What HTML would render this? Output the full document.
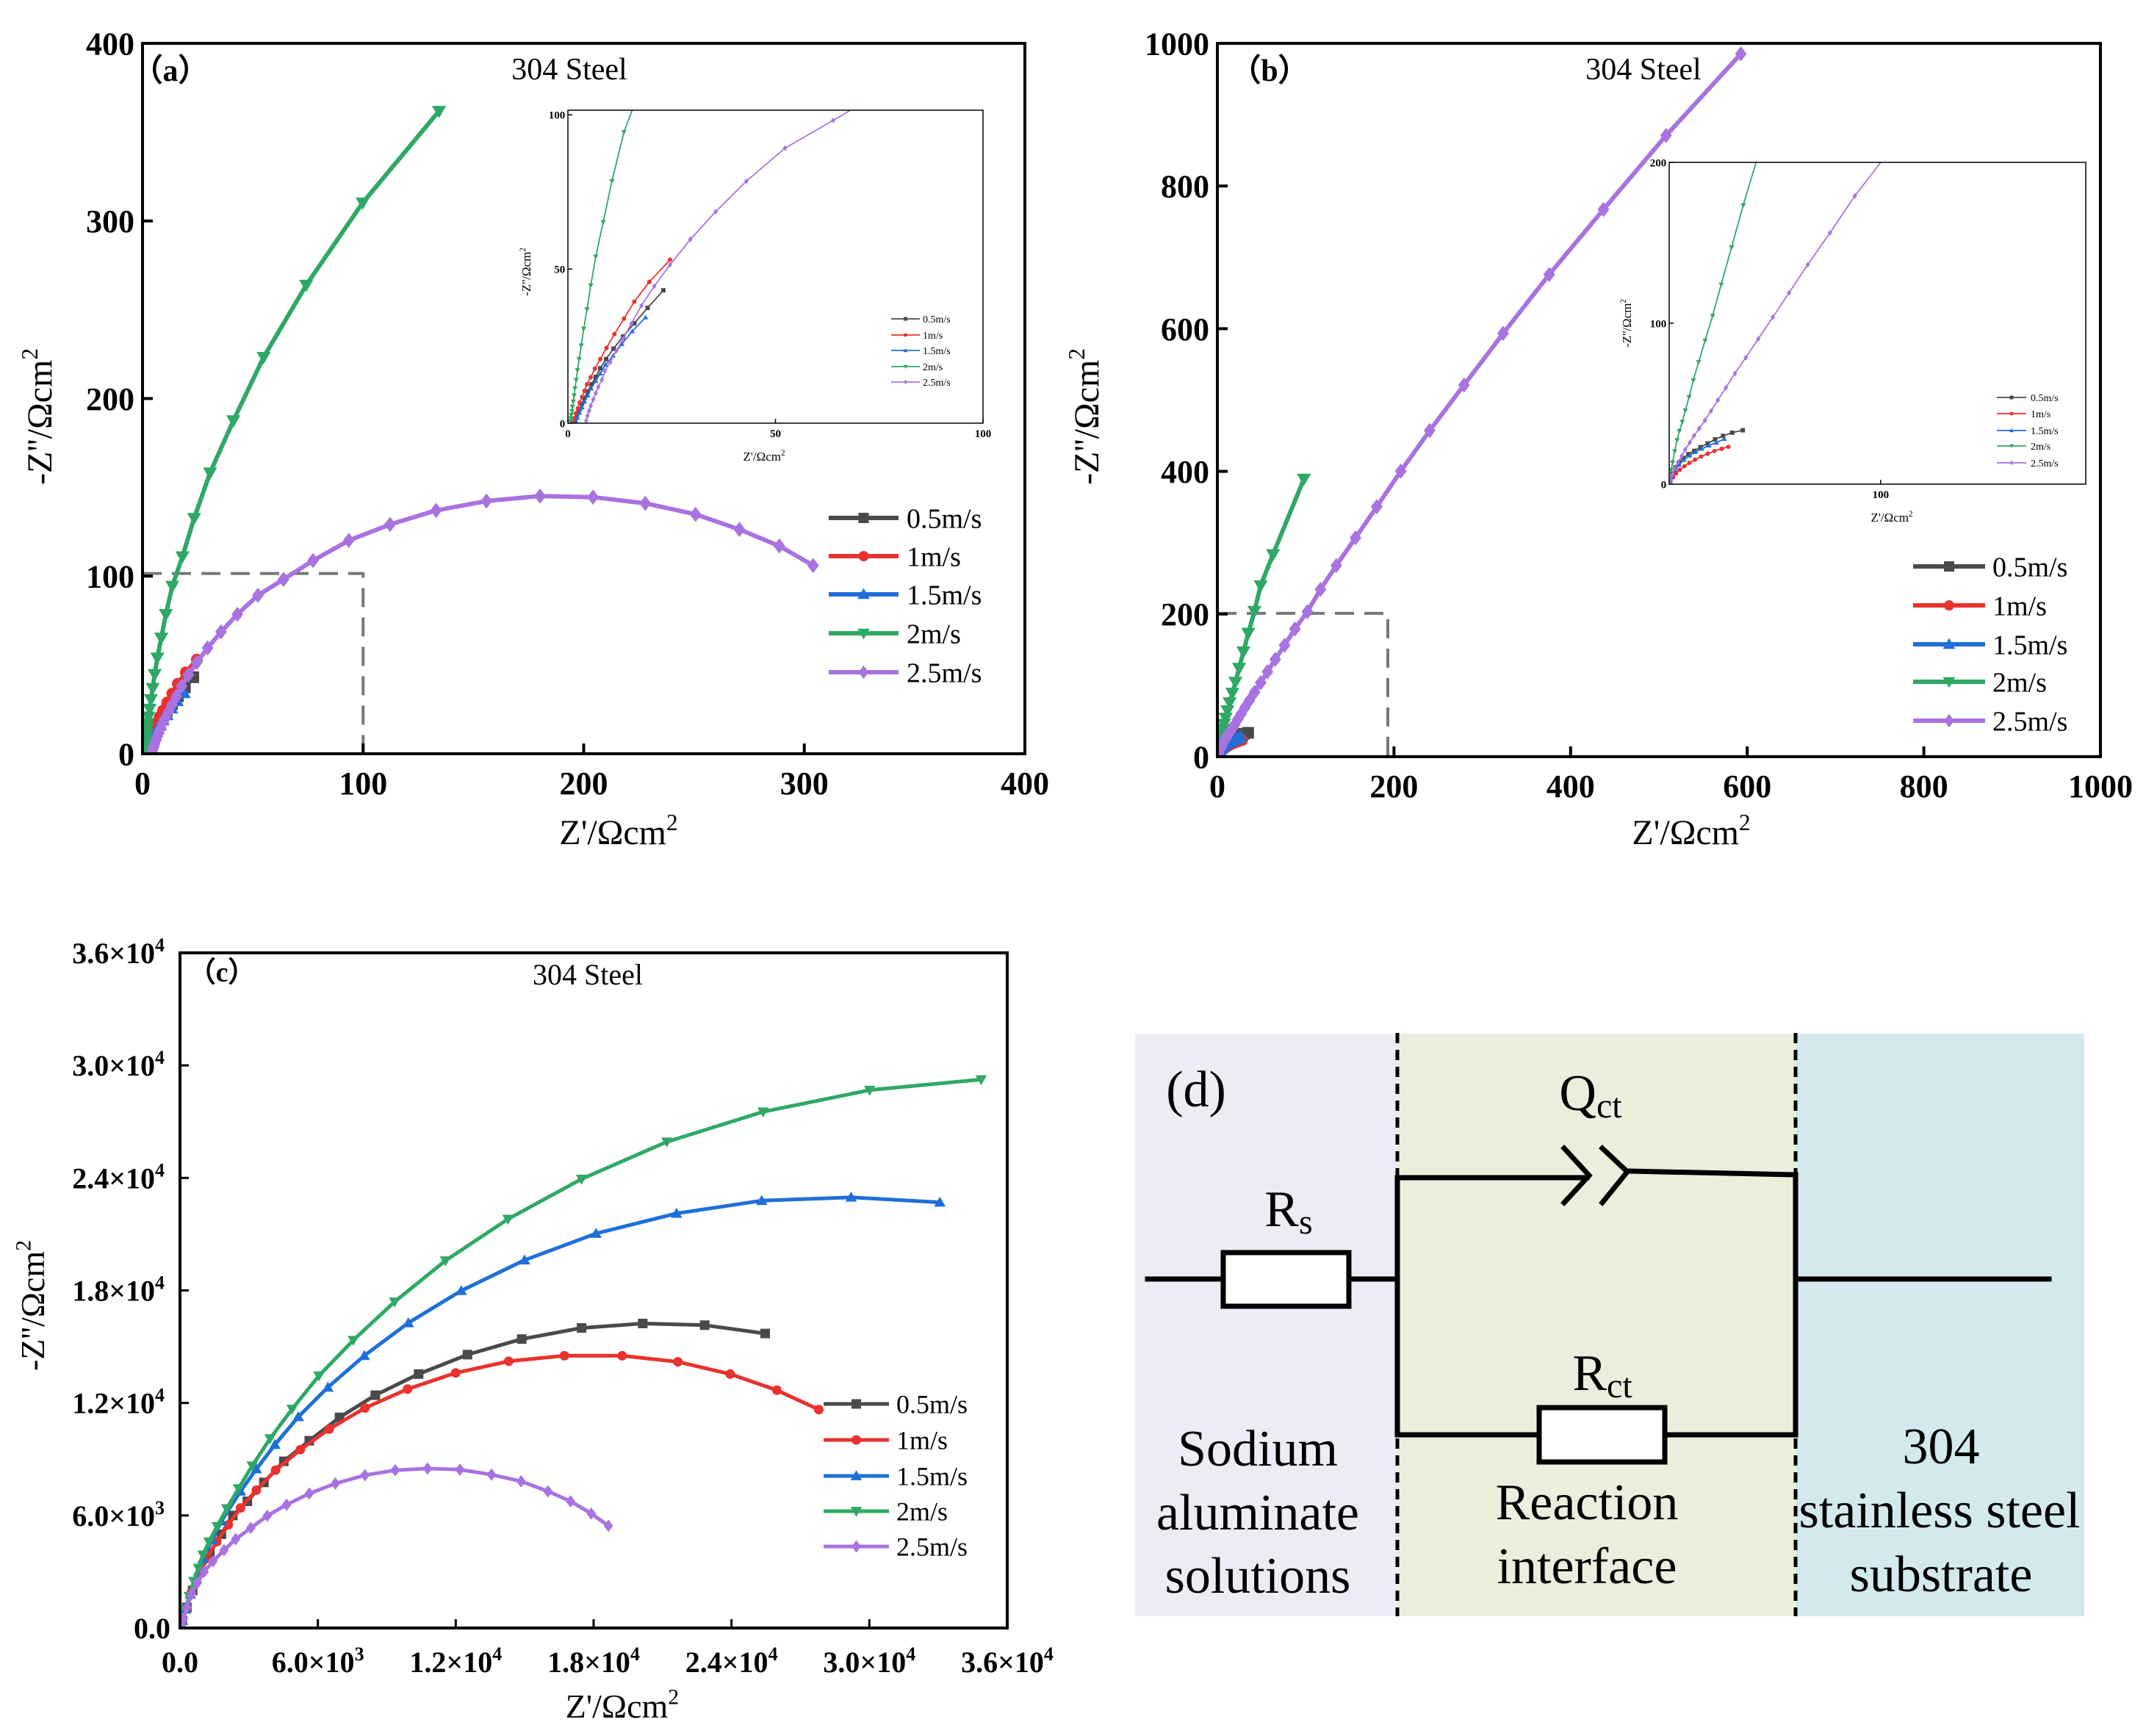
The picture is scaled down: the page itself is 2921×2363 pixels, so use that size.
<!DOCTYPE html>
<html><head><meta charset="utf-8"><style>
html,body{margin:0;padding:0;background:#fff;}
svg{display:block;font-family:"Liberation Serif",serif;}
</style></head><body>
<svg id="fig" width="2921" height="2363" viewBox="0 0 2921 2363" xmlns="http://www.w3.org/2000/svg">
<defs>
<clipPath id="clipA"><rect x="194" y="59" width="1201" height="967"/></clipPath>
<clipPath id="clipAi"><rect x="773" y="150" width="565" height="426"/></clipPath>
<clipPath id="clipB"><rect x="1657" y="59" width="1202" height="971"/></clipPath>
<clipPath id="clipBi"><rect x="2272" y="221" width="567" height="438"/></clipPath>
<clipPath id="clipC"><rect x="245" y="1297" width="1126" height="919"/></clipPath>
</defs>
<g>
<rect x="1545" y="1407" width="357" height="793" fill="#efebf4"/>
<rect x="1902" y="1407" width="542" height="793" fill="#ebeedd"/>
<rect x="2444" y="1407" width="393" height="793" fill="#d3e9ee"/>
<line x1="1902" y1="1406" x2="1902" y2="2200" stroke="#000" stroke-width="5" stroke-dasharray="14 9"/>
<line x1="2444" y1="1406" x2="2444" y2="2200" stroke="#000" stroke-width="5" stroke-dasharray="14 9"/>
<g stroke="#000" stroke-width="7" fill="none" stroke-linecap="square">
<line x1="1562" y1="1741" x2="1665" y2="1741"/>
<rect x="1665" y="1705" width="171" height="73" fill="#fff"/>
<line x1="1836" y1="1741" x2="1902" y2="1741"/>
<line x1="1902" y1="1603" x2="1902" y2="1953"/>
<line x1="1902" y1="1603" x2="2160" y2="1603"/>
<polyline points="2129,1563 2163,1600 2129,1637"/>
<polyline points="2181,1563 2215,1595 2181,1637"/>
<line x1="2215" y1="1594" x2="2444" y2="1599"/>
<line x1="2444" y1="1599" x2="2444" y2="1953"/>
<line x1="2444" y1="1741" x2="2789" y2="1741"/>
<line x1="1902" y1="1953" x2="2095" y2="1953"/>
<rect x="2095" y="1916" width="171" height="74" fill="#fff"/>
<line x1="2266" y1="1953" x2="2444" y2="1953"/>
</g>
<g font-size="70" fill="#000" text-anchor="middle">
<text x="1628" y="1506">(d)</text>
<text x="2165" y="1511">Q<tspan font-size="48" dy="10">ct</tspan></text>
<text x="1754" y="1669">R<tspan font-size="48" dy="10">s</tspan></text>
<text x="2181" y="1892">R<tspan font-size="48" dy="10">ct</tspan></text>
<text x="1712" y="1995">Sodium</text>
<text x="1712" y="2082">aluminate</text>
<text x="1712" y="2168">solutions</text>
<text x="2160" y="2068">Reaction</text>
<text x="2160" y="2155">interface</text>
<text x="2642" y="1992">304</text>
<text x="2640" y="2079">stainless steel</text>
<text x="2642" y="2166">substrate</text>
</g>
</g>
</svg>
<script>
const seriesNames = ['0.5m/s','1m/s','1.5m/s','2m/s','2.5m/s'];
const aGray = [[1.8,1.0],[2.2,2.7],[2.8,4.4],[3.4,6.3],[4.0,8.2],[4.8,10.3],[5.7,12.6],[6.7,15.0],[7.8,17.8],[9.2,20.8],[11.0,24.2],[13.3,28.1],[16.0,32.4],[19.2,37.4],[23.0,43.1]];
const aRed = [[1.3,0.3],[1.6,1.6],[1.9,3.2],[2.4,4.8],[2.8,6.6],[3.4,8.5],[4.0,10.5],[4.6,12.6],[5.5,14.9],[6.5,17.7],[7.8,20.8],[9.3,24.4],[11.2,28.9],[13.5,33.9],[16.0,39.4],[19.6,45.8],[24.6,53.0]];
const aBlue = [[1.9,0.4],[2.3,1.8],[2.8,3.4],[3.4,5.1],[4.0,7.0],[4.8,9.0],[5.6,11.3],[6.7,13.7],[7.8,16.1],[9.1,19.0],[10.9,21.9],[13.0,25.7],[15.5,29.8],[18.7,34.3]];
const aGreen = [[0.6,0.6],[0.7,1.6],[0.8,2.7],[1.0,3.9],[1.1,5.3],[1.3,7.0],[1.5,9.0],[1.7,11.3],[2.0,14.0],[2.3,17.2],[2.7,20.8],[3.2,25.2],[3.8,30.6],[4.6,36.9],[5.5,44.7],[6.7,54.0],[8.5,65.2],[10.6,78.5],[13.5,94.4],[18.1,111.0],[23.4,132.6],[30.6,158.2],[41.2,187.6],[54.9,223.3],[74.2,263.9],[99.8,310.2],[134.4,361.8]];
const aPurple = [[4.4,0.8],[4.7,2.4],[5.1,4.0],[5.5,5.6],[6.1,7.7],[6.7,9.7],[7.3,11.7],[8.2,14.1],[8.9,16.9],[10.2,19.8],[11.7,23.5],[13.3,27.4],[15.3,32.3],[17.7,38.1],[20.8,44.4],[24.6,51.4],[29.5,59.6],[35.6,68.6],[43.0,78.5],[52.3,89.2],[63.9,98.2],[77.3,108.8],[93.5,120.1],[112.2,129.1],[133.1,137.0],[155.9,142.3],[180.2,145.1],[204.2,144.5],[227.9,141.0],[250.7,134.8],[270.6,126.3],[288.7,117.0],[304.0,106.0]];
const bGray = [[0.4,2.8],[1.5,6.6],[2.9,10.4],[4.7,13.5],[6.7,16.3],[9.1,18.6],[11.9,20.7],[14.8,23.0],[18.2,25.3],[21.7,27.8],[25.5,30.0],[29.8,32.0],[34.8,33.5]];
const bRed = [[0.6,2.0],[1.8,4.3],[3.2,6.6],[5.0,8.9],[7.2,11.1],[9.5,13.2],[12.2,15.2],[15.1,17.2],[18.2,18.9],[21.4,20.6],[24.8,22.0],[28.0,23.2]];
const bBlue = [[0.3,2.0],[1.2,5.1],[2.8,8.9],[4.7,12.0],[7.0,15.1],[9.7,17.8],[12.5,20.0],[15.4,22.0],[18.8,24.0],[22.3,25.8],[26.1,28.1]];
const bGreen = [[0.9,8.9],[1.6,13.5],[2.6,20.4],[3.7,27.3],[4.8,33.0],[6.2,38.7],[7.6,45.8],[9.4,54.2],[11.4,64.5],[13.9,75.9],[17.0,89.2],[20.5,104.6],[24.6,124.1],[29.5,147.2],[35.0,173.3],[42.0,204.0],[49.0,239.9],[63.0,283.5],[98.0,389.4]];
const bPurple = [[0.6,2.8],[1.5,5.8],[2.6,9.7],[4.1,13.5],[5.9,17.4],[7.6,21.5],[9.7,25.8],[11.7,30.1],[14.2,34.6],[16.9,39.6],[19.8,45.5],[23.0,52.2],[26.8,59.9],[31.1,68.8],[36.2,78.6],[42.1,90.3],[49.0,103.7],[56.7,119.0],[65.5,136.4],[76.0,156.1],[87.8,179.1],[101.9,203.3],[116.7,234.4],[134.6,267.9],[156.4,306.8],[180.5,350.5],[207.7,400.3],[240.4,457.2],[279.3,521.0],[323.6,593.4],[375.8,676.0],[437.2,767.1],[508.0,870.7],[592.8,985.2]];
const cGray = [[20,80],[100,400],[300,1100],[550,2000],[900,3000],[1300,4000],[1800,5000],[2300,6000],[2933,6756],[3651,7763],[4519,8889],[5626,9985],[6943,11230],[8499,12415],[10384,13541],[12509,14578],[14873,15408],[17476,16000],[20139,16237],[22833,16148],[25466,15704]];
const cRed = [[20,80],[100,400],[280,1050],[500,1900],[800,2800],[1150,3700],[1600,4600],[2100,5500],[2633,6400],[3322,7348],[4160,8415],[5237,9511],[6494,10607],[8050,11733],[9905,12741],[11999,13600],[14304,14222],[16728,14519],[19242,14519],[21666,14193],[23940,13541],[25975,12682],[27801,11645]];
const cBlue = [[20,80],[100,400],[250,1000],[450,1800],[700,2700],[1000,3700],[1400,4700],[1800,5700],[2633,7289],[3322,8474],[4130,9778],[5147,11259],[6434,12830],[8020,14519],[9935,16267],[12240,17985],[14993,19615],[18105,21037],[21606,22104],[25316,22785],[29207,22963],[33068,22697]];
const cGreen = [[30,100],[100,400],[250,1000],[400,1700],[600,2500],[800,3200],[1000,3900],[1257,4593],[1616,5422],[2035,6370],[2544,7437],[3142,8652],[3920,10104],[4878,11674],[6045,13452],[7541,15349],[9337,17393],[11551,19586],[14274,21808],[17476,23941],[21187,25926],[25376,27527],[30015,28682],[34863,29245]];
const cPurple = [[50,150],[150,500],[300,1100],[500,1800],[750,2400],[1050,3000],[1436,3556],[1915,4148],[2424,4741],[3082,5333],[3800,5985],[4638,6578],[5626,7170],[6763,7704],[8050,8148],[9367,8415],[10773,8504],[12180,8445],[13556,8178],[14843,7822],[16010,7289],[16997,6756],[17895,6104],[18643,5452]];
const aTicks = [0,100,200,300,400];
const aInsetTicks = [0,50,100];
const bTicks = [0,200,400,600,800,1000];
const bInsetYTicks = [0,100,200];
const bInsetXTicks = [100];
const cTicks = [0,6000,12000,18000,24000,30000,36000];
const cTickMant = ['0.0','6.0','1.2','1.8','2.4','3.0','3.6'];
const cTickExp = ['','3','4','4','4','4','4'];

const colors = ['#4a4a4a','#e8322f','#1f6fd8','#2fa866','#a873e0'];
const NS = 'http://www.w3.org/2000/svg';
const svg = document.getElementById('fig');
function el(tag, attrs, parent){const e=document.createElementNS(NS,tag);for(const k in attrs)e.setAttribute(k,attrs[k]);(parent||svg).appendChild(e);return e;}
function scale(d0,d1,p0,p1){return v=>p0+(v-d0)/(d1-d0)*(p1-p0);}
function marker(g,type,x,y,s,color){
  let e;
  if(type===0){e=el('rect',{x:x-s/2,y:y-s/2,width:s,height:s,fill:color},g);}
  else if(type===1){e=el('circle',{cx:x,cy:y,r:s/2,fill:color},g);}
  else if(type===2){e=el('polygon',{points:`${x},${y-s*0.6} ${x-s*0.6},${y+s*0.45} ${x+s*0.6},${y+s*0.45}`,fill:color},g);}
  else if(type===3){e=el('polygon',{points:`${x},${y+s*0.6} ${x-s*0.6},${y-s*0.45} ${x+s*0.6},${y-s*0.45}`,fill:color},g);}
  else {e=el('polygon',{points:`${x},${y-s*0.65} ${x+s*0.5},${y} ${x},${y+s*0.65} ${x-s*0.5},${y}`,fill:color},g);}
  return e;
}
function drawSeries(parent,data,sx,sy,idx,lw,ms,clip,prefix){
  const g=el('g',{'clip-path':`url(#${clip})`},parent);
  
  
  const pl=el('polyline',{points:data.map(p=>sx(p[0]).toFixed(1)+','+sy(p[1]).toFixed(1)).join(' '),fill:'none',stroke:colors[idx],'stroke-width':lw,'stroke-linejoin':'round'},g);
  
  
  data.forEach(p=>{
    const m=marker(g,idx,sx(p[0]),sy(p[1]),ms,colors[idx]);
    
    
  });
}
function legend(parent,x1,x2,tx,rows,fs,lw,ms,prefix){
  rows.forEach((y,i)=>{
    const g=el('g',{},parent);
    
    
    el('line',{x1:x1,y1:y,x2:x2,y2:y,stroke:colors[i],'stroke-width':lw},g);
    marker(g,i,(x1+x2)/2,y,ms,colors[i]);
    const t=el('text',{x:tx,y:y+fs*0.35,'font-size':fs,fill:'#000'},g);
    t.textContent=seriesNames[i];
  });
}
function frame(parent,x0,y0,x1,y1,w,name){
  const r=el('rect',{x:x0,y:y0,width:x1-x0,height:y1-y0,fill:'none',stroke:'#000','stroke-width':w},parent);
  
  
}
function axisTitleX(parent,cx,y,fs){
  const t=el('text',{x:cx,y:y,'font-size':fs,'text-anchor':'middle'},parent);
  
  
  t.innerHTML="Z'/Ωcm<tspan dy='"+(-fs*0.4)+"' font-size='"+(fs*0.65)+"'>2</tspan>";
}
function axisTitleY(parent,x,cy,fs){
  const t=el('text',{x:0,y:0,'font-size':fs,'text-anchor':'middle',transform:`translate(${x},${cy}) rotate(-90)`},parent);
  
  
  t.innerHTML="-Z''/Ωcm<tspan dy='"+(-fs*0.4)+"' font-size='"+(fs*0.65)+"'>2</tspan>";
}
function label(parent,x,y,fs,txt,anchor,bold,name){
  const t=el('text',{x:x,y:y,'font-size':fs,'text-anchor':anchor||'middle','font-weight':bold?'bold':'normal'},parent);
  
  
  t.textContent=txt;
  return t;
}
function ticks(parent,vals,sx,sy,axis,len,w,fs,fmt,x0,y0,lab){
  vals.forEach((v,i)=>{
    if(axis==='x'){
      const X=sx(v);
      el('line',{x1:X,y1:y0,x2:X,y2:y0-len,stroke:'#000','stroke-width':w},parent);
      if(lab){label(parent,X,y0+fs*1.25,fs,fmt(v,i),'middle',true,'x-tick-label');}
    } else {
      const Y=sy(v);
      el('line',{x1:x0,y1:Y,x2:x0+len,y2:Y,stroke:'#000','stroke-width':w},parent);
      if(lab){label(parent,x0-fs*0.25,Y+fs*0.35,fs,fmt(v,i),'end',true,'y-tick-label');}
    }
  });
}

(function(){
  const g=el('g',{});
  
  
  const sx=scale(0,400,194,1395), sy=scale(0,400,1026,59);
  const dz=el('rect',{x:sx(0),y:sy(101.5),width:sx(100)-sx(0),height:sy(0)-sy(101.5),fill:'none',stroke:'#777','stroke-width':4,'stroke-dasharray':'26 14'},g);
  
  
  [aGray,aRed,aBlue,aGreen,aPurple].forEach((d,i)=>drawSeries(g,d,sx,sy,i,6,16,'clipA','a'));
  frame(g,194,59,1395,1026,4,'plot-frame');
  ticks(g,aTicks,sx,sy,'x',14,4,44,v=>String(v),0,1026,true);
  ticks(g,aTicks,sx,sy,'y',14,4,44,v=>String(v),194,0,true);
  axisTitleX(g,842,1149,48);
  axisTitleY(g,70,567,48);
  label(g,232,110,42,'（a）','middle',true,'panel-label');
  label(g,775,108,42,'304 Steel','middle',false,'chart-title');
  legend(g,1128,1223,1234,[705,757,809,862,915],38,6,14,'a');
  const ig=el('g',{},g);
  
  
  const ix=scale(0,100,773,1338), iy=scale(0,101.5,576,150);
  el('rect',{x:773,y:150,width:565,height:426,fill:'#fff'},ig);
  [aGray,aRed,aBlue,aGreen,aPurple].forEach((d,i)=>drawSeries(ig,d,ix,iy,i,1.8,6,'clipAi','a-inset'));
  frame(ig,773,150,1338,576,1.5,'inset-frame');
  ticks(ig,aInsetTicks,ix,iy,'x',6,1.5,15,v=>String(v),0,576,true);
  ticks(ig,aInsetTicks,ix,iy,'y',6,1.5,15,v=>String(v),773,0,true);
  axisTitleX(ig,1040,627,17);
  axisTitleY(ig,722,370,17);
  legend(ig,1213,1252,1256,[434,456,477,499,520],14,1.8,5,'a-inset');
})();

(function(){
  const g=el('g',{});
  
  
  const sx=scale(0,1000,1657,2859), sy=scale(0,1000,1030,59);
  const dz=el('rect',{x:sx(0),y:sy(201),width:sx(193)-sx(0),height:sy(0)-sy(201),fill:'none',stroke:'#777','stroke-width':4,'stroke-dasharray':'26 14'},g);
  
  
  [bGray,bRed,bBlue,bGreen,bPurple].forEach((d,i)=>drawSeries(g,d,sx,sy,i,6,16,'clipB','b'));
  frame(g,1657,59,2859,1030,4,'plot-frame');
  ticks(g,bTicks,sx,sy,'x',14,4,44,v=>String(v),0,1030,true);
  ticks(g,bTicks,sx,sy,'y',14,4,44,v=>String(v),1657,0,true);
  axisTitleX(g,2302,1149,48);
  axisTitleY(g,1495,567,48);
  label(g,1728,110,42,'（b）','middle',true,'panel-label');
  label(g,2237,108,42,'304 Steel','middle',false,'chart-title');
  legend(g,2604,2702,2712,[771,824,877,928,981],38,6,14,'b');
  const ig=el('g',{},g);
  
  
  const ix=scale(0,197,2272,2839), iy=scale(0,200,659,221);
  el('rect',{x:2272,y:221,width:567,height:438,fill:'#fff'},ig);
  [bGray,bRed,bBlue,bGreen,bPurple].forEach((d,i)=>drawSeries(ig,d,ix,iy,i,1.8,6,'clipBi','b-inset'));
  frame(ig,2272,221,2839,659,1.5,'inset-frame');
  ticks(ig,bInsetXTicks,ix,iy,'x',6,1.5,15,v=>String(v),0,659,true);
  ticks(ig,bInsetYTicks,ix,iy,'y',6,1.5,15,v=>String(v),2272,0,true);
  axisTitleX(ig,2575,710,17);
  axisTitleY(ig,2220,440,17);
  legend(ig,2718,2758,2764,[541,563,586,607,630],14,1.8,5,'b-inset');
})();

(function(){
  const g=el('g',{});
  
  
  const sx=scale(0,36000,245,1371), sy=scale(0,36000,2216,1297);
  [cGray,cRed,cBlue,cGreen,cPurple].forEach((d,i)=>drawSeries(g,d,sx,sy,i,5,13,'clipC','c'));
  frame(g,245,1297,1371,2216,4,'plot-frame');
  const fs=40;
  cTicks.forEach((v,i)=>{
    const X=sx(v),Y=sy(v);
    el('line',{x1:X,y1:2216,x2:X,y2:2204,stroke:'#000','stroke-width':3},g);
    el('line',{x1:245,y1:Y,x2:257,y2:Y,stroke:'#000','stroke-width':3},g);
    const tx=el('text',{x:X,y:2276,'font-size':fs,'font-weight':'bold','text-anchor':'middle'},g);
    
    
    tx.innerHTML=cTickExp[i]?cTickMant[i]+'×10<tspan dy="-16" font-size="26">'+cTickExp[i]+'</tspan>':cTickMant[i];
    const ty=el('text',{x:cTickExp[i]?224:232,y:Y+14,'font-size':fs,'font-weight':'bold','text-anchor':'end'},g);
    
    
    ty.innerHTML=cTickExp[i]?cTickMant[i]+'×10<tspan dy="-16" font-size="26">'+cTickExp[i]+'</tspan>':cTickMant[i];
  });
  axisTitleX(g,847,2338,46);
  axisTitleY(g,60,1777,46);
  label(g,302,1336,38,'（c）','middle',true,'panel-label');
  label(g,800,1340,40,'304 Steel','middle',false,'chart-title');
  legend(g,1121,1210,1220,[1911,1960,2009,2057,2105],36,5,13,'c');
})();
</script>
</body></html>
